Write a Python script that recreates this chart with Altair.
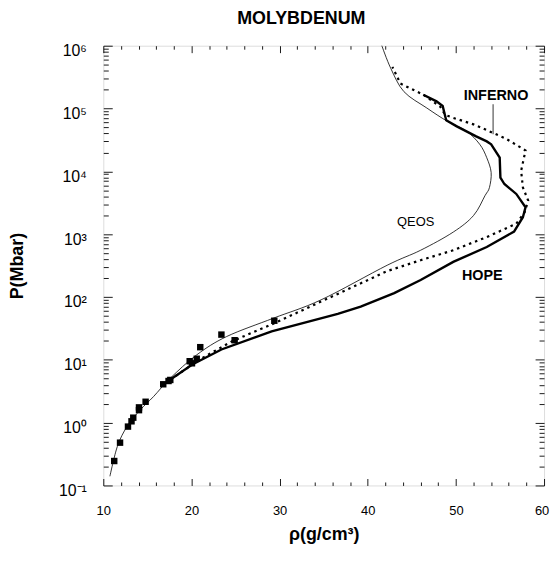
import altair as alt
import pandas as pd

FONT = "Liberation Sans"

# ---- data ----
qeos_rho = [10.75, 11.6, 12.7, 14.2, 15.7, 17.6, 20.6, 24.0, 29.3, 34.7, 42.2, 46.0, 49.7, 52.0,
            53.3, 53.8, 54.0, 53.5, 52.7, 51.2, 49.0, 46.7, 44.1, 42.6, 41.6]
qeos_p = [0.14, 0.42, 0.87, 1.6, 2.6, 5.1, 12, 23.5, 46, 90, 320, 555, 1080, 1980,
          4100, 5500, 9600, 16500, 27000, 43700, 63000, 102000, 186000, 440000, 1000000]

inferno_rho = [17.6, 18.2, 20.8, 24.6, 29.45, 34.7, 42.2, 46.0, 49.7, 53.5, 56.85, 57.8, 58.2,
               57.6, 57.4, 57.9, 55.7, 54.2, 52.0, 49.7, 48.8, 48.2, 46.3, 43.7, 42.8]
inferno_p = [4.9, 5.5, 9.9, 19.7, 38.5, 84.5, 258, 385, 555, 900, 1466, 2230, 3420,
             5550, 10200, 21500, 33000, 41000, 56000, 71000, 79000, 108000, 166000, 250000, 460000]

hope_rho = [17.2, 20.1, 23.4, 29.1, 36.6, 39.2, 43.0, 46.0, 49.7, 53.5, 56.6, 57.6, 57.9,
            56.85, 55.5, 55.05, 54.97, 54.0, 53.5, 52.3, 50.1, 48.9, 48.5, 47.8, 46.3]
hope_p = [4.45, 8.45, 14.6, 28.4, 54, 70.5, 115, 186, 362, 625, 1100, 1860, 2680,
          4370, 6290, 7950, 16500, 27000, 30000, 36000, 52000, 65000, 110000, 130000, 166000]

exp_rho = [11.24, 11.9, 12.8, 13.2, 13.4, 14.05, 14.05, 14.8, 16.8, 17.4, 17.6, 19.8, 20.06,
           20.6, 21.0, 23.4, 24.9, 29.4]
exp_p = [0.245, 0.48, 0.865, 1.05, 1.2, 1.58, 1.75, 2.15, 4.08, 4.6, 4.78, 9.5, 8.8,
         10.4, 15.9, 25.2, 20.5, 41.9]

label_text = ["INFERNO", "QEOS", "HOPE"]
label_rho = [54.56, 45.44, 53.0]
label_p = [160000, 1550, 215]

leader_rho = [54.22]
leader_p = [117000]
leader_p2 = [39000]

x_major = [10, 20, 30, 40, 50, 60]
x_minor = [v for v in range(12, 60, 2) if v % 10]
y_major = [10.0 ** k for k in range(-1, 7)]
y_minor = [m * 10.0 ** k for k in range(-1, 6) for m in range(2, 10)]
sup = {-1: "\u207b\u00b9", 0: "\u2070", 1: "\u00b9", 2: "\u00b2", 3: "\u00b3",
       4: "\u2074", 5: "\u2075", 6: "\u2076"}

W, H = 444, 443

xscale = alt.Scale(domain=[10, 60], nice=False, zero=False)
yscale = alt.Scale(type="log", domain=[0.1, 1e6], nice=False)

expr = ""
for k in range(-1, 6):
    expr += "datum.value < %g ? '10%s' : " % (3 * 10.0 ** k, sup[k])
expr += "'10%s'" % sup[6]


def tick_axis(orient, values, size, offset):
    return alt.Axis(orient=orient, values=values, tickSize=size, offset=offset,
                    labels=False, domain=False, grid=False, title=None,
                    ticks=True, tickColor="black", tickWidth=0.9)


def line_df(r, p):
    return pd.DataFrame({"rho": r, "p": p, "i": list(range(len(r)))})


x_main = alt.Axis(orient="bottom", values=x_major, ticks=False, tickSize=0, domain=False,
                  grid=False, labelPadding=19, labelFontSize=13, labelFont=FONT,
                  labelColor="black", labelFlush=False,
                  labelOffset={"condition": {"test": "datum.value >= 60", "value": -2.5},
                               "value": 0},
                  title="\u03c1(g/cm\u00b3)", titleFont=FONT,
                  titleFontSize=18, titleFontWeight="bold", titleColor="black",
                  titleY=40, titleBaseline="top")
y_main = alt.Axis(orient="left", values=y_major, ticks=False, tickSize=0, domain=False,
                  grid=False, labelPadding=17, labelFontSize=16, labelFont=FONT,
                  labelColor="black", labelExpr=expr, labelOffset=5, labelFlush=False,
                  title="P(Mbar)", titleFont=FONT, titleFontSize=18,
                  titleFontWeight="bold", titleColor="black", titleX=-86,
                  titleY=H / 2, titleBaseline="middle", titleAlign="center", titleAngle=-90)

qeos = alt.Chart(line_df(qeos_rho, qeos_p)).mark_line(
    color="black", strokeWidth=0.8, interpolate="cardinal").encode(
    x=alt.X("rho:Q", scale=xscale, axis=x_main),
    y=alt.Y("p:Q", scale=yscale, axis=y_main),
    order="i:Q",
)

hope = alt.Chart(line_df(hope_rho, hope_p)).mark_line(color="black", strokeWidth=2.4).encode(
    x=alt.X("rho:Q", scale=xscale, axis=tick_axis("top", x_major, 7, -H)),
    y=alt.Y("p:Q", scale=yscale, axis=tick_axis("right", y_major, 9, -W)),
    order="i:Q",
)

inferno = alt.Chart(line_df(inferno_rho, inferno_p)).mark_line(
    color="black", strokeWidth=2.2, strokeDash=[2.5, 4]).encode(
    x=alt.X("rho:Q", scale=xscale, axis=tick_axis("top", x_minor, 3.5, -H)),
    y=alt.Y("p:Q", scale=yscale, axis=tick_axis("right", y_minor, 5, -W)),
    order="i:Q",
)

points = alt.Chart(pd.DataFrame({"rho": exp_rho, "p": exp_p})).mark_square(
    color="black", size=42, opacity=1).encode(
    x=alt.X("rho:Q", scale=xscale, axis=tick_axis("bottom", x_major, 7, -H)),
    y=alt.Y("p:Q", scale=yscale, axis=tick_axis("left", y_major, 9, -W)),
)

leader = alt.Chart(pd.DataFrame({"rho": leader_rho, "p": leader_p, "p2": leader_p2})).mark_rule(
    color="black", strokeWidth=0.8).encode(
    x=alt.X("rho:Q", scale=xscale, axis=tick_axis("bottom", x_minor, 3.5, -H)),
    y=alt.Y("p:Q", scale=yscale, axis=tick_axis("left", y_minor, 5, -W)),
    y2="p2:Q",
)

lab_df = pd.DataFrame({"t": label_text, "rho": label_rho, "p": label_p,
                       "w": ["bold", "normal", "bold"]})
labels_bold = alt.Chart(lab_df[lab_df.w == "bold"]).mark_text(
    font=FONT, fontSize=14.5, fontWeight="bold", color="black", align="center",
    baseline="middle").encode(
    x=alt.X("rho:Q", scale=xscale, axis=None),
    y=alt.Y("p:Q", scale=yscale, axis=None),
    text="t:N",
)
labels_norm = alt.Chart(lab_df[lab_df.w == "normal"]).mark_text(
    font=FONT, fontSize=13, color="black", align="center", baseline="middle").encode(
    x=alt.X("rho:Q", scale=xscale, axis=None),
    y=alt.Y("p:Q", scale=yscale, axis=None),
    text="t:N",
)

title = alt.Chart(pd.DataFrame({"t": ["MOLYBDENUM"]})).mark_text(
    font=FONT, fontSize=18, fontWeight="bold", color="black", align="center",
    baseline="alphabetic").encode(
    x=alt.value(199.5), y=alt.value(-22), text="t:N")

chart = alt.layer(qeos, hope, inferno, points, leader, labels_bold, labels_norm, title).resolve_axis(
    x="independent", y="independent"
).properties(
    width=W, height=H,
    autosize=alt.AutoSizeParams(type="none"),
    padding={"left": 96, "top": 36, "right": 6, "bottom": 60},
).configure_view(stroke="black", strokeWidth=1.1).configure(background="white")

chart.save("out.html", embed_options={"renderer": "svg", "actions": False})
